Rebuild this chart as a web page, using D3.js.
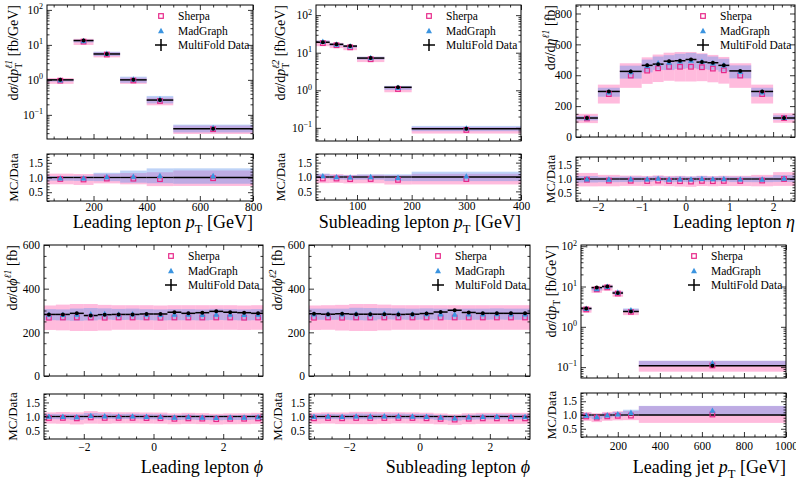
<!DOCTYPE html>
<html>
<head>
<meta charset="utf-8">
<script src="https://cdn.jsdelivr.net/npm/d3@7"></script>
<style>
  body { margin: 0; background: #fff; }
  svg text { fill: #000; font-family: 'Liberation Serif', 'Times New Roman', serif; }
</style>
</head>
<body>
<svg id="fig" width="796" height="479"></svg>
<script>
"use strict";

// ---- data ----
const legendLabels = ["Sherpa", "MadGraph", "MultiFold Data"];
const ratioTicks = [0.5, 1.0, 1.5];
const logTicks = [0.1, 1, 10, 100];

// leading lepton pT
const lep1PtBins = [25, 125, 200, 300, 400, 500, 800];
const lep1PtData = [1.00, 13.3, 5.5, 1.00, 0.265, 0.040];
const lep1PtDataErr = [0.03, 0.35, 0.15, 0.04, 0.012, 0.003];
const lep1PtSherpa = [0.95, 12.4, 5.3, 0.96, 0.25, 0.039];
const lep1PtMadGraph = [0.97, 12.9, 5.6, 1.03, 0.28, 0.042];
const lep1PtSherpaUnc = [0.19, 0.20, 0.17, 0.20, 0.25, 0.27];
const lep1PtMadGraphUnc = [0.08, 0.09, 0.14, 0.20, 0.24, 0.25];
const lep1PtTicks = [200, 400, 600, 800];

// subleading lepton pT
const lep2PtBins = [25, 50, 75, 100, 150, 200, 400];
const lep2PtData = [19.0, 16.7, 15.0, 7.2, 1.20, 0.095];
const lep2PtDataErr = [0.5, 0.4, 0.4, 0.2, 0.04, 0.005];
const lep2PtSherpa = [18.0, 15.8, 13.9, 6.7, 1.08, 0.088];
const lep2PtMadGraph = [19.6, 16.6, 14.8, 7.2, 1.17, 0.097];
const lep2PtSherpaUnc = [0.17, 0.16, 0.16, 0.16, 0.18, 0.20];
const lep2PtMadGraphUnc = [0.08, 0.08, 0.08, 0.09, 0.12, 0.16];
const lep2PtTicks = [100, 200, 300, 400];

// leading lepton eta
const etaBins = [-2.5, -2, -1.5, -1, -0.75, -0.5, -0.25, 0, 0.25, 0.5, 0.75, 1, 1.5, 2, 2.5];
const etaData = [123, 295, 425, 464, 472, 491, 494, 502, 485, 481, 464, 428, 295, 123];
const etaDataErr = [5, 8, 10, 10, 10, 10, 10, 10, 10, 10, 10, 10, 8, 5];
const etaSherpa = [120, 278, 398, 430, 445, 455, 455, 455, 452, 443, 432, 398, 278, 123];
const etaMadGraph = [122, 290, 420, 460, 478, 482, 490, 495, 488, 478, 465, 422, 290, 125];
const etaSherpaUnc = [0.25, 0.22, 0.20, 0.20, 0.20, 0.20, 0.21, 0.21, 0.20, 0.20, 0.20, 0.20, 0.22, 0.25];
const etaMadGraphUnc = [0.12, 0.10, 0.10, 0.09, 0.09, 0.10, 0.10, 0.10, 0.10, 0.09, 0.09, 0.10, 0.10, 0.12];
const etaTicks = [-2, -1, 0, 1, 2];
const etaYTicks = [0, 200, 400, 600, 800];

// leading lepton phi
const phiBins = [-3.2, -2.8, -2.4, -2.0, -1.6, -1.2, -0.8, -0.4, 0, 0.4, 0.8, 1.2, 1.6, 2.0, 2.4, 2.8, 3.2];
const phi1Data = [282, 282, 287, 277, 281, 282, 282, 284, 284, 292, 287, 290, 296, 292, 290, 287];
const phi1DataErr = [4, 4, 4, 4, 4, 4, 4, 4, 4, 4, 4, 4, 4, 4, 4, 4];
const phi1Sherpa = [267, 268, 268, 268, 267, 268, 268, 268, 267, 268, 268, 268, 268, 268, 267, 268];
const phi1MadGraph = [281, 280, 281, 283, 284, 282, 283, 281, 280, 281, 281, 280, 282, 281, 280, 281];
const phi1SherpaUnc = [0.21, 0.22, 0.23, 0.23, 0.22, 0.21, 0.21, 0.21, 0.21, 0.21, 0.21, 0.21, 0.21, 0.21, 0.21, 0.21];
const phi1MadGraphUnc = [0.09, 0.09, 0.10, 0.10, 0.09, 0.09, 0.09, 0.09, 0.09, 0.09, 0.09, 0.09, 0.09, 0.09, 0.09, 0.09];

// subleading lepton phi
const phi2Data = [285, 283, 285, 283, 283, 283, 282, 283, 286, 293, 301, 291, 287, 287, 287, 287];
const phi2DataErr = [4, 4, 4, 4, 4, 4, 4, 4, 4, 4, 4, 4, 4, 4, 4, 4];
const phi2Sherpa = [267, 268, 267, 268, 268, 268, 268, 268, 268, 268, 268, 268, 268, 268, 268, 268];
const phi2MadGraph = [283, 283, 283, 284, 283, 285, 284, 283, 284, 283, 282, 283, 283, 284, 283, 283];
const phi2SherpaUnc = [0.21, 0.21, 0.22, 0.23, 0.23, 0.22, 0.21, 0.21, 0.21, 0.21, 0.21, 0.21, 0.21, 0.21, 0.21, 0.21];
const phi2MadGraphUnc = [0.09, 0.09, 0.09, 0.10, 0.10, 0.09, 0.09, 0.09, 0.09, 0.09, 0.09, 0.09, 0.09, 0.09, 0.09, 0.09];
const phiTicks = [-2, 0, 2];
const phiYTicks = [0, 200, 400, 600];

// leading jet pT
const jetPtBins = [25, 75, 125, 175, 225, 300, 1000];
const jetPtData = [2.85, 9.4, 10.0, 6.9, 2.4, 0.108];
const jetPtDataErr = [0.08, 0.3, 0.3, 0.2, 0.07, 0.004];
const jetPtSherpa = [2.7, 8.5, 9.5, 6.7, 2.35, 0.11];
const jetPtMadGraph = [2.8, 8.7, 9.9, 7.1, 2.6, 0.125];
const jetPtSherpaUnc = [0.17, 0.18, 0.17, 0.17, 0.17, 0.30];
const jetPtMadGraphUnc = [0.08, 0.08, 0.08, 0.08, 0.10, 0.15];
const jetPtTicks = [200, 400, 600, 800, 1000];

// ---- styling ----
const FONT = "'Liberation Serif','Times New Roman',serif";
const TICK_FS = 11.5;
const PINK = "rgba(255,105,180,0.45)";
const BLUE = "rgba(100,149,237,0.42)";
const SHERPA_COL = "#e7298a";
const MG_COL = "#3b94e0";
const ratioDomain = [0.2, 1.8];

// small rich text helper: parts with italic / sub / sup
function richText(sel, parts, size) {
  let off = 0;
  parts.forEach(p => {
    const ts = sel.append("tspan").text(p.t);
    let target = 0, fs = size;
    if (p.sub) { target = size * 0.3; fs = size * 0.7; }
    if (p.sup) { target = -size * 0.42; fs = size * 0.7; }
    if (target - off !== 0) ts.attr("dy", target - off);
    if (p.dx) ts.attr("dx", p.dx);
    ts.attr("font-size", fs);
    if (p.it) ts.attr("font-style", "italic");
    off = target;
  });
}

const panels = [
  { left: 47, right: 253, top: 5, bottom: 139, rTop: 154, rBottom: 201,
    bins: lep1PtBins, data: lep1PtData, err: lep1PtDataErr, sherpa: lep1PtSherpa, mg: lep1PtMadGraph,
    sUnc: lep1PtSherpaUnc, mUnc: lep1PtMadGraphUnc,
    xDomain: [25, 800], xTicks: lep1PtTicks, xMinor: 50,
    log: true, yDomain: [Math.pow(10, -1.69), Math.pow(10, 2.14)], yTicks: logTicks,
    ylabX: 18, xlabY: 228, tickPad: 2,
    yLabel: [{t: "d"}, {t: "σ", it: true}, {t: "/d"}, {t: "p", it: true}, {t: "T", sub: true}, {t: "ℓ1", sup: true, it: true, dx: -6}, {t: " [fb/GeV]"}],
    xLabel: [{t: "Leading lepton "}, {t: "p", it: true}, {t: "T", sub: true}, {t: " [GeV]"}] },
  { left: 316, right: 521, top: 5, bottom: 141, rTop: 154, rBottom: 200,
    bins: lep2PtBins, data: lep2PtData, err: lep2PtDataErr, sherpa: lep2PtSherpa, mg: lep2PtMadGraph,
    sUnc: lep2PtSherpaUnc, mUnc: lep2PtMadGraphUnc,
    xDomain: [25, 400], xTicks: lep2PtTicks, xMinor: 20,
    log: true, yDomain: [Math.pow(10, -1.35), Math.pow(10, 2.27)], yTicks: logTicks,
    ylabX: 285, xlabY: 228, tickPad: 2,
    yLabel: [{t: "d"}, {t: "σ", it: true}, {t: "/d"}, {t: "p", it: true}, {t: "T", sub: true}, {t: "ℓ2", sup: true, it: true, dx: -6}, {t: " [fb/GeV]"}],
    xLabel: [{t: "Subleading lepton "}, {t: "p", it: true}, {t: "T", sub: true}, {t: " [GeV]"}] },
  { left: 576, right: 795, top: 5, bottom: 137, rTop: 157, rBottom: 201,
    bins: etaBins, data: etaData, err: etaDataErr, sherpa: etaSherpa, mg: etaMadGraph,
    sUnc: etaSherpaUnc, mUnc: etaMadGraphUnc,
    xDomain: [-2.5, 2.5], xTicks: etaTicks, xMinor: 0.2,
    log: false, yDomain: [0, 855], yTicks: etaYTicks, yMinor: 50,
    ylabX: 555, xlabY: 228, tickPad: 2,
    yLabel: [{t: "d"}, {t: "σ", it: true}, {t: "/d"}, {t: "η", it: true}, {t: "ℓ1", sup: true, it: true}, {t: " [fb]"}],
    xLabel: [{t: "Leading lepton "}, {t: "η", it: true}] },
  { left: 44, right: 263, top: 245, bottom: 376, rTop: 394, rBottom: 439,
    bins: phiBins, data: phi1Data, err: phi1DataErr, sherpa: phi1Sherpa, mg: phi1MadGraph,
    sUnc: phi1SherpaUnc, mUnc: phi1MadGraphUnc,
    xDomain: [-Math.PI, Math.PI], xTicks: phiTicks, xMinor: 0.5,
    log: false, yDomain: [0, 600], yTicks: phiYTicks, yMinor: 50,
    ylabX: 17, xlabY: 473, tickPad: 4,
    yLabel: [{t: "d"}, {t: "σ", it: true}, {t: "/d"}, {t: "ϕ", it: true}, {t: "ℓ1", sup: true, it: true}, {t: " [fb]"}],
    xLabel: [{t: "Leading lepton "}, {t: "ϕ", it: true}] },
  { left: 309, right: 530, top: 245, bottom: 376, rTop: 394, rBottom: 439,
    bins: phiBins, data: phi2Data, err: phi2DataErr, sherpa: phi2Sherpa, mg: phi2MadGraph,
    sUnc: phi2SherpaUnc, mUnc: phi2MadGraphUnc,
    xDomain: [-Math.PI, Math.PI], xTicks: phiTicks, xMinor: 0.5,
    log: false, yDomain: [0, 600], yTicks: phiYTicks, yMinor: 50,
    ylabX: 282, xlabY: 473, tickPad: 4,
    yLabel: [{t: "d"}, {t: "σ", it: true}, {t: "/d"}, {t: "ϕ", it: true}, {t: "ℓ2", sup: true, it: true}, {t: " [fb]"}],
    xLabel: [{t: "Subleading lepton "}, {t: "ϕ", it: true}] },
  { left: 581, right: 786, top: 245, bottom: 378, rTop: 393, rBottom: 437,
    bins: jetPtBins, data: jetPtData, err: jetPtDataErr, sherpa: jetPtSherpa, mg: jetPtMadGraph,
    sUnc: jetPtSherpaUnc, mUnc: jetPtMadGraphUnc,
    xDomain: [25, 1000], xTicks: jetPtTicks, xMinor: 50,
    log: true, yDomain: [Math.pow(10, -1.27), Math.pow(10, 2.03)], yTicks: logTicks,
    ylabX: 556, xlabY: 473, tickPad: 5,
    yLabel: [{t: "d"}, {t: "σ", it: true}, {t: "/d"}, {t: "p", it: true}, {t: "T", sub: true}, {t: " [fb/GeV]"}],
    xLabel: [{t: "Leading jet "}, {t: "p", it: true}, {t: "T", sub: true}, {t: " [GeV]"}] }
];

const svg = d3.select("#fig");

// minor tick positions for linear axes
function linMinor(domain, step, majors) {
  const lo = Math.min(domain[0], domain[1]), hi = Math.max(domain[0], domain[1]);
  return d3.range(Math.ceil(lo / step - 1e-9) * step, hi + 1e-9, step)
    .filter(v => !majors.some(m => Math.abs(m - v) < step / 10));
}
// minor tick positions for log axes
function logMinor(domain) {
  const out = [];
  for (let k = Math.floor(Math.log10(domain[0])); k <= Math.ceil(Math.log10(domain[1])); k++) {
    for (let m = 2; m <= 9; m++) {
      const v = m * Math.pow(10, k);
      if (v >= domain[0] && v <= domain[1]) out.push(v);
    }
  }
  return out;
}

function styleAxis(sel) {
  sel.attr("font-family", FONT).attr("font-size", TICK_FS);
  sel.select(".domain").remove();
  sel.selectAll(".tick line").attr("stroke", "#000").attr("stroke-width", 0.8);
}

// draws inward ticks on all four sides, labels on left and optionally bottom
function drawAxes(g, x, y, p, box, yTicks, yMinor, yFmt, xLabels, logY) {
  const xMinorVals = linMinor(x.domain(), p.xMinor, p.xTicks);
  const sides = [
    [d3.axisBottom, box.bottom, x, true],
    [d3.axisTop, box.top, x, true],
    [d3.axisLeft, p.left, y, false],
    [d3.axisRight, p.right, y, false]
  ];
  sides.forEach(([axisFn, pos, sc, isX]) => {
    const majors = isX ? p.xTicks : yTicks;
    const minors = isX ? xMinorVals : yMinor;
    const tr = isX ? `translate(0,${pos})` : `translate(${pos},0)`;
    const showLab = (isX && axisFn === d3.axisBottom && xLabels) || (!isX && axisFn === d3.axisLeft);
    const a = axisFn(sc).tickValues(majors).tickSize(-5).tickSizeOuter(0)
      .tickPadding(isX ? p.tickPad : 4);
    if (!showLab) a.tickFormat(() => "");
    else if (isX) a.tickFormat(d3.format("~g"));
    else a.tickFormat(logY ? (() => "") : yFmt);
    const ga = g.append("g").attr("transform", tr).call(a).call(styleAxis);
    if (showLab && !isX && logY) {
      ga.selectAll(".tick text").each(function(d) {
        const e = Math.round(Math.log10(d));
        d3.select(this).call(richText, [{t: "10"}, {t: e < 0 ? "−" + (-e) : String(e), sup: true}], TICK_FS);
      });
    }
    const m = axisFn(sc).tickValues(minors).tickSize(-2.5).tickSizeOuter(0).tickFormat(() => "");
    g.append("g").attr("transform", tr).call(m).call(styleAxis);
  });
  g.append("rect").attr("x", p.left).attr("y", box.top)
    .attr("width", p.right - p.left).attr("height", box.bottom - box.top)
    .attr("fill", "none").attr("stroke", "#000").attr("stroke-width", 1);
}

function sherpaMarker(sel, cx, cy) {
  sel.append("rect").attr("x", cx - 2.3).attr("y", cy - 2.3).attr("width", 4.6).attr("height", 4.6)
    .attr("fill", "none").attr("stroke", SHERPA_COL).attr("stroke-width", 1.2);
}
function mgMarker(sel, cx, cy) {
  sel.append("path").attr("d", `M${cx},${cy - 3.2}L${cx + 3},${cy + 2.2}L${cx - 3},${cy + 2.2}Z`)
    .attr("fill", MG_COL);
}

panels.forEach((p, pi) => {
  const x = d3.scaleLinear().domain(p.xDomain).range([p.left, p.right]);
  const y = (p.log ? d3.scaleLog() : d3.scaleLinear()).domain(p.yDomain).range([p.bottom, p.top]);
  const yr = d3.scaleLinear().domain(ratioDomain).range([p.rBottom, p.rTop]);
  const idx = d3.range(p.data.length);
  const mid = i => (p.bins[i] + p.bins[i + 1]) / 2;

  const defs = svg.append("defs");
  defs.append("clipPath").attr("id", "cm" + pi).append("rect")
    .attr("x", p.left).attr("y", p.top).attr("width", p.right - p.left).attr("height", p.bottom - p.top);
  defs.append("clipPath").attr("id", "cr" + pi).append("rect")
    .attr("x", p.left).attr("y", p.rTop).attr("width", p.right - p.left).attr("height", p.rBottom - p.rTop);

  // ---- main panel ----
  const gm = svg.append("g").attr("clip-path", `url(#cm${pi})`);
  const band = (g, sc, cls, val, unc, col) => g.selectAll("rect." + cls).data(idx).join("rect")
    .attr("class", cls)
    .attr("x", i => x(p.bins[i])).attr("width", i => x(p.bins[i + 1]) - x(p.bins[i]))
    .attr("y", i => sc(val(i) * (1 + unc[i])))
    .attr("height", i => sc(val(i) * (1 - unc[i])) - sc(val(i) * (1 + unc[i])))
    .attr("fill", col);
  band(gm, y, "pink", i => p.sherpa[i], p.sUnc, PINK);
  band(gm, y, "blue", i => p.mg[i], p.mUnc, BLUE);

  gm.selectAll("line.dh").data(idx).join("line").attr("class", "dh")
    .attr("x1", i => x(p.bins[i])).attr("x2", i => x(p.bins[i + 1]))
    .attr("y1", i => y(p.data[i])).attr("y2", i => y(p.data[i]))
    .attr("stroke", "#000").attr("stroke-width", 1.5);
  gm.selectAll("line.dv").data(idx).join("line").attr("class", "dv")
    .attr("x1", i => x(mid(i))).attr("x2", i => x(mid(i)))
    .attr("y1", i => y(p.data[i] - p.err[i])).attr("y2", i => y(p.data[i] + p.err[i]))
    .attr("stroke", "#000").attr("stroke-width", 1.5);
  idx.forEach(i => {
    sherpaMarker(gm, x(mid(i)), y(p.sherpa[i]));
    mgMarker(gm, x(mid(i)), y(p.mg[i]));
  });
  gm.selectAll("circle.dd").data(idx).join("circle").attr("class", "dd")
    .attr("cx", i => x(mid(i))).attr("cy", i => y(p.data[i])).attr("r", 2).attr("fill", "#000");

  // ---- ratio panel ----
  const gr = svg.append("g").attr("clip-path", `url(#cr${pi})`);
  band(gr, yr, "pink", i => p.sherpa[i] / p.data[i], p.sUnc, PINK);
  band(gr, yr, "blue", i => p.mg[i] / p.data[i], p.mUnc, BLUE);
  gr.selectAll("line.one").data(idx).join("line").attr("class", "one")
    .attr("x1", i => x(p.bins[i])).attr("x2", i => x(p.bins[i + 1]))
    .attr("y1", yr(1)).attr("y2", yr(1))
    .attr("stroke", "#000").attr("stroke-width", 1.3);
  idx.forEach(i => {
    sherpaMarker(gr, x(mid(i)), yr(p.sherpa[i] / p.data[i]));
    mgMarker(gr, x(mid(i)), yr(p.mg[i] / p.data[i]));
  });

  // ---- axes ----
  const yMinorVals = p.log ? logMinor(p.yDomain) : linMinor(p.yDomain, p.yMinor, p.yTicks);
  drawAxes(svg.append("g"), x, y, p, {top: p.top, bottom: p.bottom}, p.yTicks, yMinorVals, d3.format("d"), false, p.log);
  drawAxes(svg.append("g"), x, yr, p, {top: p.rTop, bottom: p.rBottom}, ratioTicks,
    linMinor(ratioDomain, 0.1, ratioTicks), d3.format(".1f"), true, false);

  // ---- labels ----
  svg.append("text").attr("font-family", FONT).attr("font-size", 14)
    .attr("text-anchor", "end")
    .attr("transform", `translate(${p.ylabX},${p.top}) rotate(-90)`)
    .call(richText, p.yLabel, 14);
  svg.append("text").attr("font-family", FONT).attr("font-size", 13)
    .attr("text-anchor", "middle")
    .attr("transform", `translate(${p.ylabX},${(p.rTop + p.rBottom) / 2}) rotate(-90)`)
    .text("MC/Data");
  svg.append("text").attr("font-family", FONT).attr("font-size", 18)
    .attr("text-anchor", "end").attr("x", p.right).attr("y", p.xlabY)
    .call(richText, p.xLabel, 18);

  // ---- legend ----
  const lx = p.right - 92, tx = p.right - 75;
  const rows = [p.top + 11, p.top + 26, p.top + 40];
  sherpaMarker(svg, lx, rows[0]);
  svg.append("path").attr("d", `M${lx},${rows[1] - 3.2}L${lx + 3},${rows[1] + 2.2}L${lx - 3},${rows[1] + 2.2}Z`).attr("fill", MG_COL);
  svg.append("line").attr("x1", lx - 6).attr("x2", lx + 6).attr("y1", rows[2]).attr("y2", rows[2])
    .attr("stroke", "#000").attr("stroke-width", 1.5);
  svg.append("line").attr("x1", lx).attr("x2", lx).attr("y1", rows[2] - 6).attr("y2", rows[2] + 6)
    .attr("stroke", "#000").attr("stroke-width", 1.5);
  legendLabels.forEach((lab, k) => {
    svg.append("text").attr("font-family", FONT).attr("font-size", 11.5)
      .attr("x", tx).attr("y", rows[k] + 4).text(lab);
  });
});
</script>
</body>
</html>
